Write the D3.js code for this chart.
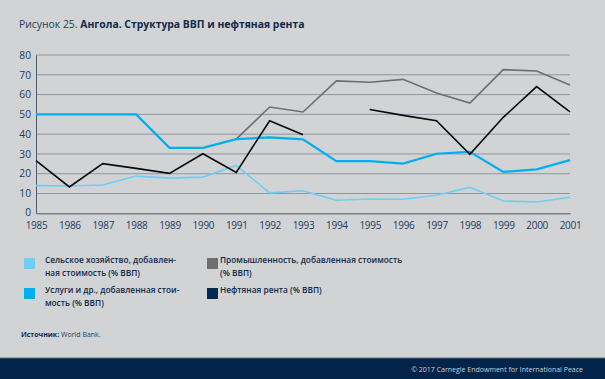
<!DOCTYPE html>
<html><head><meta charset="utf-8">
<script src="https://cdn.jsdelivr.net/npm/d3@7"></script>
<style>
html,body{margin:0;padding:0;background:#d2d3d5;}
svg{display:block;}
text{font-family:"Open Sans",sans-serif;}
</style></head>
<body><svg id="c" width="605" height="379"></svg>
<script>
const years = [1985,1986,1987,1988,1989,1990,1991,1992,1993,1994,1995,1996,1997,1998,1999,2000,2001];
const agriculture = [14.0,13.8,14.3,18.8,17.8,18.3,24.2,10.3,11.4,6.6,7.2,7.1,9.1,13.1,6.2,5.7,8.1];
const services = [50,50,50,50,33.1,33.1,37.5,38.4,37.4,26.4,26.4,25.1,30.1,31.1,20.9,22.2,26.9];
const industry = [null,null,null,null,null,null,37.5,53.7,51.2,66.9,66.2,67.7,60.8,55.7,72.6,71.9,64.8];
const oilRent = [26.6,13.3,25.1,22.7,20.2,30.1,20.7,46.8,39.7,null,52.5,49.5,46.8,29.8,48.5,64.0,51.3];
const yTicks = [0,10,20,30,40,50,60,70,80];

const svg = d3.select("#c");
const W=605,H=379;
svg.append("rect").attr("width",W).attr("height",H).attr("fill","#d2d3d5");

// title
const t = svg.append("text").attr("x",19).attr("y",28).attr("font-size",10.4).attr("fill","#1d3b5c");
t.append("tspan").text("Рисунок 25. ");
t.append("tspan").attr("font-weight","bold").attr("fill","#0e2a4b").text("Ангола. Структура ВВП и нефтяная рента");

const x = d3.scaleLinear().domain([1985,2001]).range([36,570]);
const y = d3.scaleLinear().domain([0,80]).range([213.3,55]);

// grid
svg.append("g").selectAll("line").data(yTicks.filter(d=>d>0)).join("line")
  .attr("x1",36).attr("x2",570).attr("y1",d=>y(d)).attr("y2",d=>y(d))
  .attr("stroke","#8c96a2").attr("stroke-width",1);

const yAxis = svg.append("g").attr("transform","translate(36,0)")
  .call(d3.axisLeft(y).tickValues(yTicks).tickSize(0).tickPadding(5).tickFormat(d3.format("d")));
yAxis.select(".domain").attr("stroke","#4d5b6b");
yAxis.selectAll("text").attr("font-size",10.2).attr("fill","#1d3b5c").attr("font-family","Open Sans");
yAxis.selectAll(".tick").filter(d=>d===0).select("text").attr("dy","0.2em");

const xAxis = svg.append("g").attr("transform","translate(0,213.3)")
  .call(d3.axisBottom(x).tickValues(years).tickSize(0).tickPadding(8.5).tickFormat(d3.format("d")));
xAxis.select(".domain").attr("stroke","#4d5b6b");
xAxis.selectAll("text").attr("font-size",10).attr("fill","#1d3b5c").attr("font-family","Open Sans").attr("letter-spacing","-0.3");

const line = d3.line().defined(d=>d[1]!==null).x(d=>x(d[0])).y(d=>y(d[1]));
function draw(vals,color,w){
  svg.append("path").datum(years.map((yr,i)=>[yr,vals[i]]))
    .attr("d",line).attr("fill","none").attr("stroke",color).attr("stroke-width",w).attr("stroke-linejoin","miter");
}
draw(agriculture,"#6dcff6",1.6);
draw(industry,"#6d6e71",1.6);
draw(services,"#00aeef",2.2);
draw(oilRent,"#050a10",1.6);

// legend
const leg = [
  {x:24,y:258,c:"#6dcff6",tx:45,lines:["Сельское хозяйство, добавлен-","ная стоимость (% ВВП)"]},
  {x:24,y:288,c:"#00aeef",tx:45,lines:["Услуги и др., добавленная стои-","мость (% ВВП)"]},
  {x:207,y:258,c:"#6d6e71",tx:220,lines:["Промышленность, добавленная стоимость","(% ВВП)"]},
  {x:207,y:288,c:"#002a52",tx:220,lines:["Нефтяная рента (% ВВП)"]}
];
leg.forEach(l=>{
  svg.append("rect").attr("x",l.x).attr("y",l.y).attr("width",11).attr("height",11).attr("fill",l.c);
  const tt = svg.append("text").attr("x",l.tx).attr("y",l.y+5).attr("font-size",8.3).attr("font-weight",600).attr("fill","#0e2a4b");
  l.lines.forEach((s,i)=>tt.append("tspan").attr("x",l.tx).attr("dy",i===0?0:13).text(s));
});

// source
const src = svg.append("text").attr("x",21).attr("y",337).attr("font-size",7).attr("fill","#1d3b5c");
src.append("tspan").attr("font-weight","bold").attr("fill","#0e2a4b").text("Источник:");
src.append("tspan").text(" World Bank.");

// footer
svg.append("rect").attr("x",0).attr("y",358).attr("width",W).attr("height",21).attr("fill","#03244a");
svg.append("line").attr("x1",0).attr("x2",W).attr("y1",358).attr("y2",358).attr("stroke","#5a6f86").attr("stroke-width",1);
svg.append("text").attr("x",583).attr("y",371.5).attr("text-anchor","end").attr("font-size",7).attr("fill","#c9d0d8")
  .text("© 2017 Carnegie Endowment for International Peace");
</script></body></html>
